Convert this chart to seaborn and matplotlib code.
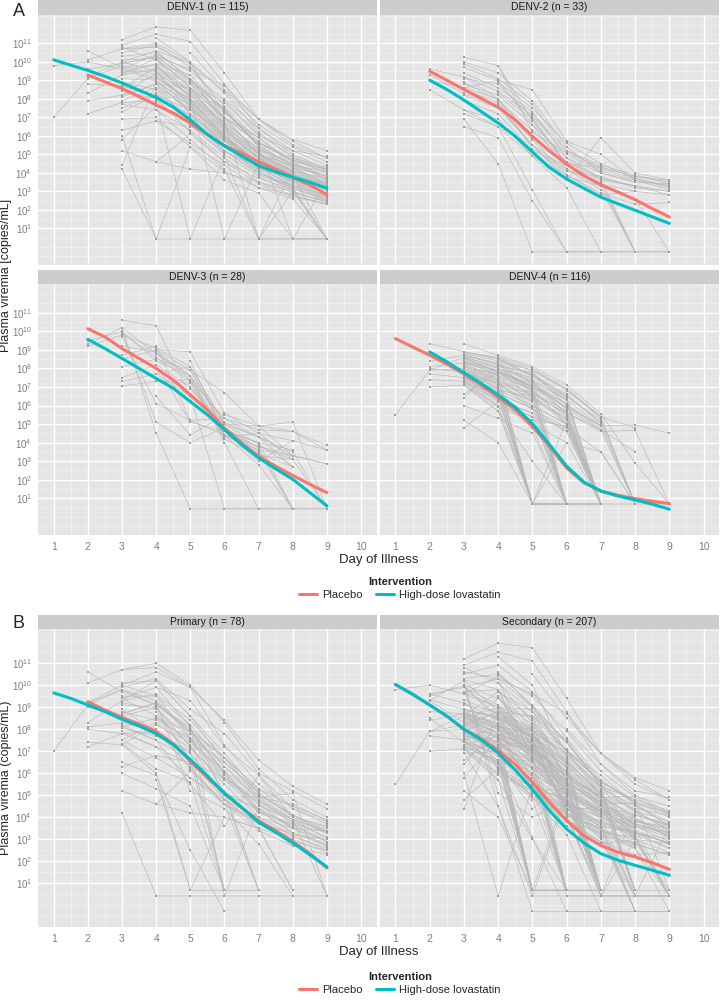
import numpy as np
import pandas as pd
import matplotlib
matplotlib.use("Agg")
import matplotlib.pyplot as plt
import seaborn as sns
from matplotlib.lines import Line2D

sns.set_theme(style="darkgrid")
plt.rcParams["font.family"] = ["Liberation Sans", "DejaVu Sans"]
plt.rcParams["mathtext.fontset"] = "custom"
plt.rcParams["mathtext.rm"] = "Liberation Sans"
plt.rcParams["mathtext.default"] = "regular"

# %% individual patients: (first day, immune status, log10 viremia per day)
denv1 = [
    (1, "S", [9.8, 10.0, 9.6, 9.0, 7.6, 5.9, 4.6, 3.9, 3.3]),
    (1, "P", [7.0, 9.1, 9.8, 9.3, 7.9, 6.1, 4.3, 3.6]),
    (2, "P", [10.6, 9.7, 9.1, 8.0, 6.7, 5.3, 4.1, 3.4]),
    (2, "P", [10.1, 10.7, 10.8, 9.9, 7.3, 5.5, 4.4, 3.8]),
    (2, "S", [9.6, 9.9, 10.3, 9.0, 7.0, 5.0, 3.9, 3.1]),
    (2, "P", [9.2, 10.0, 9.5, 8.2, 6.3, 4.8, 3.7, 2.9]),
    (2, "S", [8.8, 8.7, 8.1, 7.1, 5.8, 4.4, 3.2, 2.6]),
    (2, "P", [8.3, 9.3, 10.2, 8.6, 6.5, 5.1, 4.1, 3.3]),
    (2, "S", [7.9, 8.2, 8.8, 7.4, 5.5, 4.1, 3.0, 2.4]),
    (2, "P", [7.2, 7.8, 7.9, 6.6, 5.0, 3.8, 2.9, 2.5]),
    (3, "S", [11.2, 11.9, 11.7, 9.4, 6.9, 5.7, 4.8]),
    (3, "S", [10.9, 11.5, 11.1, 8.8, 6.4, 5.0, 4.2]),
    (3, "P", [10.7, 11.0, 10.0, 8.3, 6.2, 4.8, 4.0]),
    (3, "S", [10.5, 10.9, 9.7, 7.6, 5.7, 4.6, 3.6]),
    (3, "S", [10.3, 10.5, 9.1, 7.4, 5.5, 4.3, 3.4]),
    (3, "P", [10.1, 10.2, 8.6, 6.9, 5.1, 4.0, 3.3]),
    (3, "P", [9.9, 10.3, 8.9, 7.8, 6.0, 5.2, 4.4]),
    (3, "S", [9.7, 9.8, 8.0, 6.4, 4.8, 3.6, 2.9]),
    (3, "P", [9.5, 9.5, 7.6, 5.9, 4.4, 3.5, 2.7]),
    (3, "P", [9.3, 9.6, 8.4, 6.7, 5.3, 4.5, 3.9]),
    (3, "P", [9.1, 9.0, 7.2, 5.5, 4.0, 3.2, 2.5]),
    (3, "S", [8.9, 8.5, 6.8, 5.2, 4.2, 3.1, 0.43]),
    (3, "P", [8.7, 9.2, 7.9, 6.3, 5.0, 4.1, 3.5]),
    (3, "P", [8.4, 8.0, 6.2, 4.6, 3.4, 2.7, 2.3]),
    (3, "S", [8.1, 8.8, 8.6, 7.0, 5.6, 4.7, 4.0]),
    (3, "S", [7.7, 7.4, 5.8, 4.2, 0.43, 0.43, 0.43]),
    (3, "P", [7.3, 8.2, 7.4, 6.1, 4.9, 3.9, 3.0]),
    (3, "S", [6.9, 7.0, 5.4, 3.6, 2.9, 0.43, 0.43]),
    (3, "P", [6.3, 6.8, 6.5, 5.8, 4.6, 3.8, 3.1]),
    (3, "S", [5.8, 7.6, 7.0, 5.5, 4.3, 3.3, 2.6]),
    (3, "P", [5.2, 4.6, 4.2, 4.0, 3.5, 3.0, 2.4]),
    (3, "S", [4.4, 8.9, 7.8, 6.2, 4.8, 3.7, 3.2]),
    (3, "P", [4.2, 0.43, 0.43, 0.43, 0.43, 0.43, 0.43]),
    (3, "S", [6.0, 0.43, 5.4, 4.1, 3.2, 2.8, 2.3]),
    (3, "S", [9.6, 10.4, 9.5, 7.9, 6.1, 4.9, 4.1]),
    (3, "P", [9.4, 9.9, 9.3, 7.2, 5.9, 4.4, 3.7]),
    (3, "P", [10.0, 10.6, 9.9, 8.4, 6.6, 5.4, 4.6]),
    (3, "S", [8.6, 9.7, 8.8, 7.5, 5.4, 4.2, 3.6]),
    (3, "S", [8.2, 9.4, 8.2, 6.5, 5.2, 4.3, 3.8]),
    (3, "S", [7.9, 8.6, 7.7, 6.0, 4.5, 3.4, 2.8]),
    (3, "P", [7.5, 8.3, 7.1, 5.7, 4.7, 3.9, 3.3]),
    (3, "S", [10.8, 10.1, 8.3, 6.6, 5.0, 4.4, 4.1]),
    (4, "S", [11.3, 10.0, 6.8, 0.43, 4.3, 3.4]),
    (4, "S", [10.6, 9.0, 7.4, 5.4, 0.43, 3.6]),
    (4, "P", [9.9, 8.1, 0.43, 4.5, 3.9, 0.43]),
    (4, "P", [8.8, 6.6, 5.1, 4.4, 3.6, 2.9]),
    (4, "S", [7.8, 0.43, 4.9, 0.43, 3.0, 0.43]),
    (4, "P", [4.6, 6.1, 4.6, 3.7, 3.1, 2.6]),
    (4, "S", [9.5, 7.2, 5.9, 4.9, 4.1, 3.7]),
    (4, "S", [10.3, 9.6, 8.7, 6.9, 5.5, 4.8]),
    (4, "S", [10.1, 8.8, 7.0, 5.6, 4.7, 4.2]),
    (4, "S", [9.7, 8.5, 6.4, 5.0, 4.0, 3.1]),
    (4, "P", [9.2, 7.8, 6.0, 4.6, 3.5, 2.9]),
    (4, "P", [8.5, 7.5, 5.7, 4.3, 3.3, 2.7]),
    (4, "S", [8.2, 6.9, 5.2, 3.9, 3.2, 0.43]),
    (4, "S", [7.4, 6.3, 4.8, 3.5, 2.8, 2.3]),
    (4, "S", [6.8, 5.6, 4.4, 3.2, 2.6, 0.43]),
    (5, "S", [9.1, 6.7, 5.3, 4.5, 3.8]),
    (5, "P", [8.0, 6.0, 4.2, 3.7, 3.3]),
    (5, "S", [10.5, 8.5, 6.9, 5.8, 5.2]),
    (5, "S", [8.6, 7.4, 5.6, 4.8, 4.3]),
    (5, "P", [7.6, 5.8, 4.8, 3.9, 3.4]),
    (5, "S", [6.8, 5.2, 4.0, 3.3, 2.8]),
    (6, "S", [8.0, 6.4, 5.2, 4.9]),
    (6, "S", [7.0, 5.9, 4.6, 4.2]),
]

denv2 = [
    (2, "S", [9.6, 9.2, 8.0, 5.9, 4.6, 3.7, 3.3, 3.0]),
    (2, "S", [9.3, 8.3, 7.6, 5.5, 4.2, 3.4, 3.0, 2.8]),
    (2, "P", [9.0, 8.6, 9.0, 6.6, 4.8, 4.0, 3.5, 3.4]),
    (2, "S", [8.5, 7.4, 6.5, 4.9, 3.9, 2.9, 2.3, 2.4]),
    (3, "S", [10.25, 9.8, 6.2, 5.1, 4.3, 3.8, 3.6]),
    (3, "S", [10.0, 9.4, 7.9, 5.4, 4.0, 3.5]),
    (3, "S", [9.7, 9.0, 8.5, 5.7, 5.0, 3.6, 3.3]),
    (3, "P", [9.4, 8.6, 7.3, 4.8, 3.7, 3.3, 2.8]),
    (3, "S", [9.1, 8.8, 7.0, 4.5, 3.4, 2.6, -0.27]),
    (3, "S", [8.8, 8.2, 6.6, 4.2, 3.1, -0.27, -0.27]),
    (3, "S", [8.5, 7.8, 5.8, 3.9, 2.8, 3.0]),
    (3, "P", [8.2, 7.5, 5.5, 3.6, 5.9, 4.0, 3.6]),
    (3, "S", [7.9, 7.2, 5.2, 4.4, 3.7, -0.27]),
    (3, "S", [7.4, 6.9, 4.9, 3.2, -0.27]),
    (3, "S", [7.2, 6.5, 3.1, -0.27, -0.27, -0.27]),
    (3, "S", [6.9, 4.5, -0.27, -0.27, -0.27, -0.27, -0.27]),
    (3, "P", [6.5, 5.9, 2.5, -0.27]),
    (3, "S", [9.9, 9.1, 7.7, 5.2, 4.4, 3.9, 3.4]),
    (3, "S", [9.2, 8.4, 7.1, 5.0, 4.1, 3.6, 3.1]),
    (3, "P", [8.9, 7.9, 6.3, 4.6, 3.8, 3.2, 3.0]),
    (3, "S", [8.6, 8.0, 5.3, 4.1, 3.5, -0.27]),
    (4, "S", [9.8, 6.8, 4.5, 4.3, 3.8, 3.5]),
    (4, "S", [8.9, 7.5, 5.6, 4.5, 3.7, 3.3]),
    (4, "S", [8.3, 6.9, 4.4, 3.6, 3.3]),
    (4, "S", [7.7, 5.5, 3.8, 3.3, -0.27]),
    (5, "S", [7.2, 5.2, 4.2, 3.7, 3.2]),
]

denv3 = [
    (2, "S", [9.3, 10.2, 8.8, 7.4, 5.3, 4.3, 3.5, 0.43]),
    (2, "P", [9.2, 9.8, 9.1, 8.1, 5.0, 4.9, 4.6, 3.85]),
    (2, "S", [9.5, 10.0, 8.4, 7.6, 4.4, 3.6, 3.3, 2.85]),
    (3, "S", [10.6, 10.3, 6.5, 4.7, 4.0, 0.43, 0.43]),
    (3, "S", [8.5, 9.0, 8.9, 5.6, 4.5, 4.1, 3.6]),
    (3, "P", [8.1, 8.5, 7.9, 6.7, 4.9, 5.1, 0.43]),
    (3, "S", [7.5, 8.2, 7.0, 4.6, 3.8, 3.3]),
    (3, "S", [7.3, 7.7, 8.1, 5.0, 4.3, 2.7]),
    (3, "S", [7.05, 7.3, 7.4, 4.2, 3.3, 3.1, 0.43]),
    (3, "S", [9.7, 6.1, 5.2, 5.3, 4.7, 4.6, 3.6]),
    (3, "S", [10.0, 5.1, 4.0, 4.8, 3.5, 0.43]),
    (3, "S", [10.2, 4.5, 0.43, 0.43, 0.43, 0.43, 0.43]),
    (3, "P", [8.7, 9.2, 5.2, 4.4, 2.8, 0.43]),
    (3, "S", [9.9, 8.6, 7.3, 4.4, 3.4, 2.7]),
    (3, "P", [9.2, 8.9, 7.6, 5.1, 4.3, 3.3]),
    (4, "S", [8.8, 7.6, 4.0, 0.43, 0.43]),
    (4, "S", [8.2, 5.1, 4.6, 3.0, 4.1]),
    (4, "S", [7.7, 6.5, 0.43, 0.43]),
    (4, "S", [6.5, 4.4, 5.5, 4.9, 3.3, 2.85]),
    (4, "S", [9.0, 7.9, 4.8, 3.7, 0.43]),
    (4, "S", [7.3, 7.2, 4.3, 4.5, 3.1]),
    (5, "S", [8.4, 4.4, 3.8, 3.1]),
    (5, "S", [7.9, 4.6, 4.0, 3.6]),
    (5, "P", [6.9, 5.0, 3.9, 2.7]),
]

denv4 = [
    (1, "S", [5.5, 7.9, 8.6, 7.8, 6.5, 5.0, 0.69]),
    (2, "S", [9.34, 8.9, 8.5, 7.6, 6.3, 4.9, 4.96, 4.5]),
    (2, "S", [8.4, 8.7, 8.2, 7.2, 5.6, 4.6, 4.66, 0.69]),
    (2, "P", [8.1, 8.3, 7.9, 6.9, 5.0, 0.69]),
    (2, "P", [8.0, 7.8, 7.2, 5.8, 4.6, 0.69]),
    (2, "S", [7.9, 8.0, 6.9, 0.69, 0.69]),
    (2, "S", [7.7, 7.5, 6.3, 4.8, 0.69]),
    (2, "P", [7.4, 7.3, 6.0, 0.69, 4.0, 3.5, 0.69]),
    (2, "S", [7.0, 7.1, 5.7, 3.0, 0.69]),
    (3, "S", [9.34, 8.7, 8.1, 7.1, 5.55, 2.9, 0.69]),
    (3, "S", [8.9, 8.5, 7.9, 6.8, 5.4, 0.69]),
    (3, "P", [8.8, 8.4, 7.6, 6.5, 5.2]),
    (3, "S", [8.7, 8.3, 7.4, 6.3, 0.69]),
    (3, "S", [8.6, 8.1, 7.8, 6.0, 4.9, 0.69]),
    (3, "S", [8.5, 8.0, 7.3, 5.8, 0.69]),
    (3, "S", [8.4, 7.9, 7.0, 5.6, 4.7]),
    (3, "S", [8.3, 7.7, 0.69, 0.69]),
    (3, "S", [8.2, 7.6, 6.8, 5.4, 0.69]),
    (3, "P", [8.1, 7.5, 6.6, 0.69]),
    (3, "S", [8.0, 7.4, 0.69, 0.69, 0.69]),
    (3, "P", [7.9, 7.2, 6.4, 5.2, 0.69]),
    (3, "S", [7.8, 7.1, 6.2, 0.69]),
    (3, "S", [7.7, 7.0, 0.69]),
    (3, "S", [7.6, 6.8, 6.0, 5.0, 0.69]),
    (3, "P", [7.5, 6.7, 5.8, 4.8, 3.5, 0.69]),
    (3, "S", [7.4, 6.5, 0.69]),
    (3, "S", [7.3, 6.3, 5.6, 4.6, 0.69]),
    (3, "S", [7.2, 6.0, 5.4, 0.69]),
    (3, "S", [7.1, 5.7, 0.69, 0.69]),
    (3, "S", [6.6, 7.8, 7.0, 5.9, 4.9]),
    (3, "S", [6.4, 8.2, 6.7, 5.7, 0.69]),
    (3, "P", [6.0, 5.3, 4.5, 0.69]),
    (3, "S", [5.2, 4.0, 0.69, 0.69, 0.69, 0.69, 0.69]),
    (3, "S", [4.8, 6.2, 5.0, 4.0, 0.69]),
    (3, "S", [8.85, 8.6, 8.0, 6.9, 5.3, 0.69]),
    (3, "S", [8.75, 8.2, 7.7, 6.4, 0.69]),
    (3, "S", [8.65, 8.0, 7.5, 0.69, 0.69]),
    (3, "S", [8.55, 7.8, 7.1, 5.9, 4.9]),
    (3, "S", [8.45, 7.6, 6.9, 0.69]),
    (3, "S", [8.35, 7.8, 7.2, 6.1, 0.69]),
    (3, "S", [8.25, 7.4, 0.69]),
    (3, "S", [8.15, 7.3, 6.7, 5.5, 0.69]),
    (3, "P", [8.05, 7.7, 7.0, 0.69]),
    (3, "S", [7.95, 7.3, 6.5, 0.69]),
    (3, "S", [7.85, 6.9, 0.69]),
    (3, "S", [7.75, 7.2, 6.6, 5.6, 0.69]),
    (3, "S", [7.65, 6.6, 5.9, 0.69]),
    (3, "S", [7.55, 6.4, 0.69]),
    (3, "S", [7.45, 6.9, 6.3, 5.3, 0.69]),
    (3, "P", [7.35, 6.2, 5.6, 0.69]),
    (3, "S", [7.25, 6.6, 0.69]),
    (3, "S", [7.15, 5.9, 5.2, 4.9, 0.69]),
    (4, "S", [8.6, 7.6, 6.5, 5.1, 0.69]),
    (4, "S", [8.0, 7.0, 6.1, 4.7, 0.69]),
    (4, "S", [7.5, 6.2, 0.69]),
    (4, "S", [7.0, 0.69, 5.2, 0.69]),
    (4, "S", [6.8, 6.5, 5.3, 0.69]),
    (4, "S", [8.4, 7.9, 6.9, 5.4, 4.8]),
    (4, "S", [8.2, 7.3, 6.3, 0.69]),
    (4, "S", [7.8, 6.8, 0.69]),
    (4, "S", [7.2, 6.0, 5.0, 0.69]),
    (4, "S", [6.2, 5.4, 4.8, 0.69]),
    (4, "P", [5.7, 0.69, 0.69, 0.69]),
    (5, "S", [7.7, 6.6, 5.0]),
    (5, "S", [7.2, 5.8, 4.7, 3.5]),
]

# %% loess curves, every half day from day 1 to day 9
nan = np.nan
smooth = {
    "DENV-1": ([nan, nan, 9.29, 8.92, 8.56, 8.12, 7.67, 7.23, 6.69, 6.07, 5.48, 5.06, 4.59, 4.20, 3.76, 3.35, 2.82],
               [10.11, 9.82, 9.54, 9.22, 8.86, 8.47, 8.08, 7.55, 6.87, 6.07, 5.45, 4.91, 4.38, 4.06, 3.76, 3.49, 3.17]),
    "DENV-2": ([nan, nan, 9.49, 9.01, 8.51, 8.03, 7.55, 6.87, 5.98, 5.18, 4.47, 3.85, 3.35, 2.96, 2.55, 2.07, 1.62],
               [nan, nan, 9.01, 8.51, 7.94, 7.32, 6.69, 5.98, 5.13, 4.29, 3.67, 3.17, 2.69, 2.33, 1.98, 1.62, 1.27]),
    "DENV-3": ([nan, nan, 10.14, 9.70, 9.07, 8.54, 8.00, 7.38, 6.57, 5.77, 4.79, 3.98, 3.27, 2.73, 2.23, 1.75, 1.30],
               [nan, nan, 9.57, 9.07, 8.54, 8.00, 7.46, 6.93, 6.21, 5.50, 4.70, 3.89, 3.18, 2.59, 2.02, 1.30, 0.59]),
    "DENV-4": ([9.61, 9.16, 8.71, 8.23, 7.70, 7.11, 6.45, 5.77, 4.88, 3.80, 2.64, 1.84, 1.39, 1.16, 0.98, 0.84, 0.71],
               [nan, nan, 8.89, 8.36, 7.77, 7.20, 6.57, 5.91, 5.02, 3.89, 2.73, 1.88, 1.39, 1.12, 0.91, 0.68, 0.41]),
    "Primary": ([nan, nan, 9.25, 8.87, 8.54, 8.24, 7.90, 7.34, 6.55, 5.80, 5.09, 4.45, 3.85, 3.40, 2.90, 2.35, 1.70],
                [9.65, 9.40, 9.10, 8.80, 8.45, 8.15, 7.79, 7.30, 6.62, 5.87, 5.09, 4.45, 3.77, 3.32, 2.84, 2.30, 1.75]),
    "Secondary": ([10.03, 9.59, 9.10, 8.60, 8.00, 7.58, 7.04, 6.40, 5.60, 4.67, 3.85, 3.17, 2.72, 2.42, 2.20, 1.94, 1.64],
                  [10.03, 9.59, 9.10, 8.60, 8.00, 7.52, 6.92, 6.14, 5.27, 4.30, 3.47, 2.84, 2.35, 2.05, 1.82, 1.60, 1.37]),
}
half_days = np.arange(1, 9.01, 0.5)
arms = ["Placebo", "High-dose lovastatin"]
arm_colors = {"Placebo": "#F8766D", "High-dose lovastatin": "#00BFC4"}

# %% long tables
rows = []
for sero, plist in [("DENV-1", denv1), ("DENV-2", denv2), ("DENV-3", denv3), ("DENV-4", denv4)]:
    for i, (start, status, vals) in enumerate(plist):
        for k, v in enumerate(vals):
            rows.append({"pid": f"{sero}-{i}", "serotype": sero,
                         "status": "Primary" if status == "P" else "Secondary",
                         "day": start + k, "log_vl": v})
df = pd.DataFrame(rows)

crows = []
for panel, curves in smooth.items():
    for arm, vals in zip(arms, curves):
        for d, v in zip(half_days, vals):
            if not np.isnan(v):
                crows.append({"panel": panel, "arm": arm, "day": d, "log_vl": v})
df_smooth = pd.DataFrame(crows)

n_counts = {"DENV-1": 115, "DENV-2": 33, "DENV-3": 28, "DENV-4": 116, "Primary": 78, "Secondary": 207}

# %% layout
W, H = 725, 1000
fig = plt.figure(figsize=(7.25, 10), dpi=100)


def box(x0, y0, x1, y1):
    return [x0 / W, 1 - y1 / H, (x1 - x0) / W, (y1 - y0) / H]


cols = [(38.3, 376.5), (380, 719)]
panels = [
    ("DENV-1", "serotype", cols[0], (14.7, 265), False, True),
    ("DENV-2", "serotype", cols[1], (14.7, 265), False, False),
    ("DENV-3", "serotype", cols[0], (284, 535), True, True),
    ("DENV-4", "serotype", cols[1], (284, 535), True, False),
    ("Primary", "status", cols[0], (629, 927), True, True),
    ("Secondary", "status", cols[1], (629, 927), True, False),
]

for name, col, (x0, x1), (y0, y1), show_x, show_y in panels:
    ax = fig.add_axes(box(x0, y0, x1, y1))
    sub = df[df[col] == name]
    sns.lineplot(data=sub, x="day", y="log_vl", units="pid", estimator=None, sort=False,
                 color="#B8B8B8", lw=0.45, ax=ax, legend=False)
    sns.scatterplot(data=sub, x="day", y="log_vl", color="#A0A0A0", marker="s", s=2.5,
                    linewidth=0, ax=ax, legend=False, zorder=3)
    sns.lineplot(data=df_smooth[df_smooth["panel"] == name], x="day", y="log_vl",
                 hue="arm", hue_order=arms, palette=arm_colors, estimator=None,
                 lw=2.2, ax=ax, legend=False, zorder=4)
    ax.set_facecolor("#E5E5E5")
    ax.set_xlim(0.55, 10.45)
    ax.set_ylim(-0.98, 12.55)
    ax.set_xticks(range(1, 11))
    ax.set_xticks(np.arange(1.5, 10.5, 1), minor=True)
    ax.set_yticks(range(1, 12))
    ax.set_yticks(np.arange(-0.5, 12.6, 0.5), minor=True)
    ax.grid(which="major", color="white", lw=1.0)
    ax.grid(which="minor", color="#F2F2F2", lw=0.5)
    ax.set_axisbelow(True)
    for s in ax.spines.values():
        s.set_visible(False)
    ax.tick_params(which="minor", length=0)
    ax.tick_params(which="major", length=3, width=0.6, color="#7F7F7F",
                   labelcolor="#7F7F7F", labelsize=7.5, pad=2)
    ax.tick_params(axis="y", labelsize=7, pad=1.5)
    if show_x:
        ax.set_xticklabels([str(i) for i in range(1, 11)])
    else:
        ax.tick_params(axis="x", length=0, labelbottom=False)
    if show_y:
        ax.set_yticklabels([f"$10^{{{i}}}$" for i in range(1, 12)])
    else:
        ax.tick_params(axis="y", length=0, labelleft=False)
    ax.set_xlabel("")
    ax.set_ylabel("")

    # facet strip
    sax = fig.add_axes(box(x0, y0 - 14.5, x1, y0))
    sax.set_facecolor("#CCCCCC")
    sax.set_xticks([])
    sax.set_yticks([])
    for s in sax.spines.values():
        s.set_visible(False)
    sax.text(0.5, 0.5, f"{name} (n = {n_counts[name]})", ha="center", va="center",
             fontsize=7.5, color="#1A1A1A", transform=sax.transAxes)

# %% texts and legends
fig.text(19 / W, 1 - 12 / H, "A", fontsize=13, ha="center", va="center")
fig.text(19 / W, 1 - 623 / H, "B", fontsize=13, ha="center", va="center")
fig.text(6.5 / W, 1 - 275 / H, "Plasma viremia [copies/mL]", rotation=90,
         fontsize=9, ha="center", va="center")
fig.text(6.5 / W, 1 - 778 / H, "Plasma viremia (copies/mL)", rotation=90,
         fontsize=9, ha="center", va="center")
fig.text(378.5 / W, 1 - 560 / H, "Day of Illness", fontsize=9.5, ha="center", va="center")
fig.text(378.5 / W, 1 - 952 / H, "Day of Illness", fontsize=9.5, ha="center", va="center")

handles = [Line2D([], [], color=arm_colors[a], lw=2.2) for a in arms]
for ytop in (569, 964):
    fig.legend(handles, arms, loc="upper center", bbox_to_anchor=(400 / W, 1 - ytop / H),
               ncol=2, frameon=False, title="Intervention", fontsize=8,
               title_fontproperties={"weight": "bold", "size": 8},
               handlelength=1.6, handletextpad=0.5, columnspacing=1.2,
               borderpad=0.2, labelspacing=0.3)

fig.savefig("out.png", dpi=100)
